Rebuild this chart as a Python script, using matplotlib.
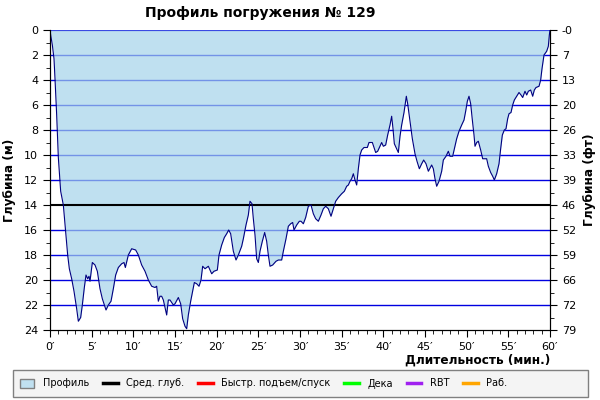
import numpy as np
import matplotlib
matplotlib.use("Agg")
from matplotlib import pyplot as plt
from matplotlib.lines import Line2D
from matplotlib.patches import Patch, Rectangle
from matplotlib.ticker import MultipleLocator

plt.rcParams['font.family'] = ['DejaVu Sans']

# время, мин
minutes = [0.0, 0.08, 0.28, 0.48, 0.6, 0.8, 1.0, 1.28, 1.6, 1.88, 2.12, 2.32, 2.6, 2.88,
           3.2, 3.4, 3.68, 3.88, 4.12, 4.32, 4.52, 4.68, 4.8, 5.08, 5.4, 5.68, 6.0,
           6.28, 6.72, 7.0, 7.32, 7.6, 7.88, 8.2, 8.6, 8.88, 9.04, 9.4, 9.8, 10.28,
           10.6, 11.0, 11.4, 11.8, 12.2, 12.6, 12.8, 13.0, 13.2, 13.4, 13.6, 14.0,
           14.2, 14.4, 14.8, 15.0, 15.4, 15.68, 15.92, 16.2, 16.4, 16.6, 16.88, 17.12,
           17.32, 17.6, 17.88, 18.12, 18.32, 18.6, 19.0, 19.4, 19.68, 20.08, 20.28,
           20.6, 20.92, 21.2, 21.44, 21.68, 22.0, 22.32, 22.6, 23.0, 23.2, 23.52,
           23.8, 24.0, 24.24, 24.4, 24.6, 24.8, 25.0, 25.2, 25.48, 25.76, 26.0, 26.2,
           26.4, 26.72, 27.12, 27.4, 27.8, 28.0, 28.32, 28.6, 28.88, 29.12, 29.28,
           29.6, 29.92, 30.12, 30.4, 30.68, 31.0, 31.32, 31.6, 31.88, 32.2, 32.52,
           32.8, 33.08, 33.4, 33.72, 34.0, 34.28, 34.6, 35.0, 35.32, 35.6, 35.8, 36.0,
           36.2, 36.4, 36.6, 36.8, 37.0, 37.2, 37.4, 37.68, 38.08, 38.28, 38.68,
           38.88, 39.08, 39.32, 39.6, 39.8, 40.0, 40.28, 40.52, 40.8, 41.0, 41.16,
           41.32, 41.6, 41.8, 42.0, 42.2, 42.48, 42.76, 42.92, 43.2, 43.48, 43.8,
           44.04, 44.32, 44.6, 44.84, 45.12, 45.4, 45.8, 46.0, 46.2, 46.4, 46.68,
           47.0, 47.2, 47.52, 47.8, 48.0, 48.32, 48.52, 48.8, 49.08, 49.4, 49.68,
           49.88, 50.08, 50.28, 50.48, 50.68, 50.88, 51.0, 51.2, 51.4, 51.68, 51.92,
           52.2, 52.4, 52.6, 52.88, 53.12, 53.32, 53.6, 53.88, 54.08, 54.28, 54.52,
           54.72, 54.92, 55.08, 55.32, 55.52, 55.72, 56.0, 56.28, 56.52, 56.72, 57.0,
           57.2, 57.4, 57.68, 57.92, 58.12, 58.32, 58.68, 58.88, 59.04, 59.28, 59.6,
           59.8, 59.92, 60.0]

# глубина, м
depth = [0.0, 0.4, 1.2, 2.3, 3.9, 6.8, 10.2, 12.9, 14.0, 16.1, 18.0, 19.1, 19.9, 20.9,
         22.3, 23.3, 23.0, 22.0, 20.6, 19.6, 19.9, 19.7, 20.1, 18.6, 18.8, 19.3, 20.7,
         21.5, 22.4, 22.0, 21.7, 20.7, 19.6, 19.0, 18.7, 18.6, 19.0, 18.0, 17.5, 17.6,
         18.0, 18.8, 19.3, 20.0, 20.5, 20.6, 20.5, 21.7, 21.3, 21.3, 21.6, 22.8,
         21.6, 21.6, 22.0, 21.9, 21.4, 21.9, 23.1, 23.7, 23.9, 22.8, 21.7, 20.9,
         20.2, 20.3, 20.5, 20.0, 18.9, 19.1, 18.9, 19.5, 19.3, 19.2, 18.0, 17.2,
         16.6, 16.3, 16.0, 16.3, 17.7, 18.4, 18.0, 17.3, 16.7, 15.6, 14.8, 13.7,
         13.9, 15.1, 16.4, 18.3, 18.6, 17.7, 16.9, 16.2, 16.9, 18.0, 18.9, 18.8,
         18.5, 18.4, 18.4, 17.7, 16.7, 15.7, 15.5, 15.4, 16.0, 15.6, 15.3, 15.3,
         15.5, 15.0, 14.1, 14.0, 14.7, 15.1, 15.3, 14.8, 14.3, 14.1, 14.3, 14.9,
         14.3, 13.7, 13.4, 13.1, 12.9, 12.5, 12.4, 12.1, 11.9, 11.5, 12.0, 12.4,
         11.1, 10.0, 9.6, 9.4, 9.4, 9.0, 9.0, 9.4, 9.8, 9.7, 9.3, 9.0, 9.3, 9.2,
         8.4, 7.6, 6.9, 7.9, 9.1, 9.5, 9.8, 8.5, 7.6, 6.6, 5.3, 5.9, 7.3, 8.7, 9.9,
         10.5, 11.1, 10.7, 10.4, 10.7, 11.3, 10.8, 11.1, 11.9, 12.5, 12.1, 11.3,
         10.4, 10.1, 9.7, 10.1, 10.1, 9.5, 8.7, 8.1, 7.6, 7.2, 6.5, 5.7, 5.3, 5.9,
         7.2, 8.4, 9.3, 9.0, 8.9, 9.6, 10.3, 10.3, 10.3, 10.9, 11.4, 11.7, 12.0,
         11.5, 10.7, 9.5, 8.4, 8.0, 7.9, 7.1, 6.7, 6.6, 6.0, 5.6, 5.3, 5.0, 5.2,
         5.4, 4.9, 5.2, 4.9, 4.8, 5.3, 4.8, 4.6, 4.5, 4.0, 3.1, 2.0, 1.7, 1.3, 0.4,
         0.0]

avg_depth = 14.0
max_depth = 24
grid_depths = [0, 2, 4, 6, 8, 10, 12, 16, 18, 20, 22]
feet_labels = ['-0', '7', '13', '20', '26', '33', '39', '46', '52', '59', '66', '72', '79']
x_ticks = [0, 5, 10, 15, 20, 25, 30, 35, 40, 45, 50, 55, 60]

fig = plt.figure(figsize=(6, 4), dpi=100)
ax = fig.add_axes([50 / 600, 70 / 400, 500 / 600, 300 / 400])

# сетка под заливкой
for g in grid_depths:
    ax.axhline(g, color='#0000e0', lw=1, zorder=1)
ax.axhline(avg_depth, color='black', lw=1.5, zorder=3)

ax.fill_between(minutes, 0, depth, color='#a5d3ea', alpha=0.7, lw=0, zorder=2)
ax.plot(minutes, depth, color='#000080', lw=0.8, zorder=4)

ax.set_xlim(0, 60)
ax.set_ylim(max_depth, 0)
ax.set_xticks(x_ticks)
ax.set_xticklabels([f"{v}\u2032" for v in x_ticks], fontsize=8)
ax.xaxis.set_minor_locator(MultipleLocator(1))
ax.set_yticks(range(0, max_depth + 1, 2))
ax.tick_params(axis='y', labelsize=8)
ax.yaxis.set_minor_locator(MultipleLocator(1))
ax.tick_params(which='major', direction='out', length=5, color='black')
ax.tick_params(which='minor', direction='out', length=3, color='black')
ax.spines['top'].set_visible(False)
for s in ['left', 'bottom', 'right']:
    ax.spines[s].set_color('black')

ax.set_ylabel('Глубина (м)', fontsize=8.7, fontweight='bold', labelpad=6)
ax.set_xlabel('Длительность (мин.)', fontsize=8.7, fontweight='bold', loc='right', labelpad=1)

ax2 = ax.twinx()
ax2.set_ylim(max_depth, 0)
ax2.set_yticks(range(0, max_depth + 1, 2))
ax2.set_yticklabels(feet_labels, fontsize=8)
ax2.yaxis.set_minor_locator(MultipleLocator(1))
ax2.tick_params(which='major', direction='out', length=5)
ax2.tick_params(which='minor', direction='out', length=3)
ax2.spines['top'].set_visible(False)
ax2.set_ylabel('Глубина (фт)', fontsize=8.7, fontweight='bold', labelpad=5)

fig.text(260 / 600, 0.968, 'Профиль погружения № 129', ha='center', va='center',
         fontsize=10, fontweight='bold')

# рамка легенды
fig.patches.append(Rectangle((13 / 600, 3 / 400), 575 / 600, 27 / 400,
                             transform=fig.transFigure, facecolor='#f4f4f4',
                             edgecolor='#808080', lw=1))
handles = [Patch(facecolor='#c0e0f0', edgecolor='#808080', label='Профиль'),
           Line2D([], [], color='black', lw=2.5, label='Сред. глуб.'),
           Line2D([], [], color='red', lw=2.5, label='Быстр. подъем/спуск'),
           Line2D([], [], color='#00ff00', lw=2.5, label='Дека'),
           Line2D([], [], color='#a020f0', lw=2.5, label='RBT'),
           Line2D([], [], color='orange', lw=2.5, label='Раб.')]
fig.legend(handles=handles, loc='center left', bbox_to_anchor=(16 / 600, 16.5 / 400),
           ncol=6, frameon=False, fontsize=7, handlelength=1.5, handleheight=1.0,
           columnspacing=1.45, handletextpad=0.85, borderaxespad=0, borderpad=0.4)

fig.savefig('out.png', dpi=100)
